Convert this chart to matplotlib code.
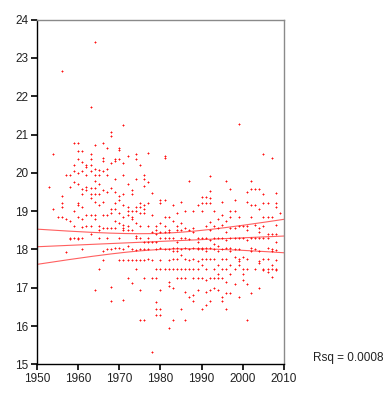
import numpy as np
import matplotlib
matplotlib.use("Agg")
import matplotlib.pyplot as plt

# Observations: year -> list of values
obs = {
    1953: [19.63],
    1954: [20.48, 19.05],
    1955: [18.85],
    1956: [22.67, 19.4, 19.2, 19.1, 18.85],
    1957: [19.95, 18.8, 17.92],
    1958: [19.95, 19.63, 18.75, 18.3, 18.28],
    1959: [20.78, 20.2, 20.05, 19.75, 19.0, 18.6, 18.3],
    1960: [20.78, 20.58, 20.35, 20.0, 19.72, 19.2, 19.15, 18.85, 18.3, 18.28],
    1961: [20.58, 20.28, 20.05, 19.58, 19.45, 19.1, 18.8, 18.58, 18.3, 18.02],
    1962: [20.2, 20.15, 19.95, 19.62, 19.55, 18.9, 18.6],
    1963: [21.72, 20.5, 20.35, 20.2, 20.05, 19.6, 19.45, 19.35, 18.9, 18.6, 18.4],
    1964: [23.42, 20.72, 20.1, 19.95, 19.8, 19.6, 19.45, 19.25, 18.9, 18.8, 16.95],
    1965: [20.08, 19.95, 19.7, 19.45, 19.15, 18.6, 18.5, 18.3, 17.5],
    1966: [20.78, 20.4, 20.3, 20.05, 19.55, 19.25, 18.9, 18.55, 17.95, 17.72],
    1967: [20.65, 20.1, 19.95, 19.5, 18.9, 18.55, 18.3, 18.0],
    1968: [21.08, 20.95, 20.25, 19.6, 19.05, 18.95, 18.55, 18.0, 17.02, 16.65],
    1969: [20.35, 20.3, 19.85, 19.5, 19.2, 19.05, 18.75, 18.55, 18.05],
    1970: [20.65, 20.6, 20.35, 19.4, 19.3, 18.95, 18.7, 18.3, 18.05, 17.72],
    1971: [21.25, 20.25, 19.95, 19.45, 19.15, 18.85, 18.65, 18.55, 18.5, 18.0, 17.72, 16.68],
    1972: [20.45, 19.72, 19.1, 19.0, 18.9, 18.6, 18.5, 18.1, 17.72, 17.25],
    1973: [19.55, 19.45, 19.0, 18.85, 18.8, 18.5, 18.0, 17.72, 17.12],
    1974: [20.5, 20.35, 19.85, 19.1, 19.0, 18.7, 18.35, 18.3, 17.98, 17.72, 17.48],
    1975: [20.2, 19.2, 19.1, 18.95, 18.6, 18.3, 18.0, 17.72, 16.95, 16.15],
    1976: [19.95, 19.85, 19.65, 19.15, 19.05, 18.95, 18.2, 18.0, 17.72, 17.25, 16.15],
    1977: [20.52, 19.75, 19.2, 18.6, 18.3, 18.2, 18.0, 17.75],
    1978: [19.48, 18.9, 18.45, 18.2, 17.72, 17.25, 15.32],
    1979: [18.6, 18.5, 18.4, 18.2, 18.0, 17.5, 17.25, 16.62, 16.45, 16.3],
    1980: [19.3, 19.2, 18.7, 18.45, 18.3, 18.05, 17.72, 17.48, 16.95, 16.45, 16.28],
    1981: [20.45, 20.38, 19.3, 18.85, 18.6, 18.45, 18.3, 18.0, 17.5],
    1982: [18.85, 18.5, 18.45, 18.3, 18.0, 17.72, 17.5, 17.15, 17.05, 15.95],
    1983: [19.15, 18.75, 18.3, 18.05, 17.95, 17.75, 17.5, 17.0, 16.15],
    1984: [18.95, 18.6, 18.5, 18.2, 18.05, 17.95, 17.75, 17.5, 17.25],
    1985: [19.25, 18.7, 18.5, 18.3, 18.0, 17.85, 17.5, 17.25, 16.45],
    1986: [19.0, 18.55, 18.3, 18.05, 17.75, 17.5, 17.25, 16.9, 16.15],
    1987: [19.78, 18.5, 18.28, 18.0, 17.72, 17.5, 16.75],
    1988: [19.0, 18.55, 18.45, 18.05, 17.75, 17.48, 17.25, 16.8, 16.65],
    1989: [19.15, 18.3, 18.2, 18.05, 18.0, 17.7, 17.48, 17.25, 16.95],
    1990: [19.38, 19.2, 19.0, 18.3, 18.05, 18.02, 17.75, 17.6, 17.25, 16.45],
    1991: [19.38, 19.2, 18.6, 18.3, 18.05, 17.95, 17.75, 17.5, 17.2, 16.9, 16.55],
    1992: [19.92, 19.52, 19.35, 19.2, 18.72, 18.5, 18.25, 18.05, 17.75, 17.25, 16.95, 16.65],
    1993: [19.0, 18.6, 18.3, 18.15, 18.0, 17.75, 17.5, 17.25, 17.0],
    1994: [18.8, 18.55, 18.3, 18.1, 17.95, 17.6, 17.35, 17.25, 16.95],
    1995: [19.25, 18.9, 18.65, 18.3, 18.0, 17.75, 17.5, 17.25, 16.75, 16.65],
    1996: [19.8, 18.75, 18.45, 18.25, 18.05, 17.75, 17.5, 17.15, 16.85, 16.45],
    1997: [19.58, 19.0, 18.85, 18.55, 18.3, 18.05, 17.95, 17.6, 17.35, 16.85],
    1998: [19.3, 19.0, 18.55, 18.3, 18.0, 17.8, 17.5, 17.1],
    1999: [21.28, 18.85, 18.6, 18.3, 18.0, 17.75, 17.7, 17.6, 16.75],
    2000: [18.6, 18.3, 17.8, 17.5, 17.35, 17.2],
    2001: [19.5, 19.25, 18.6, 18.5, 18.25, 17.75, 17.5, 17.1, 16.15],
    2002: [19.78, 19.58, 19.15, 18.85, 18.3, 18.05, 17.95, 16.85],
    2003: [19.58, 19.15, 18.65, 18.3, 18.0, 17.5],
    2004: [19.58, 19.05, 18.55, 18.45, 18.3, 17.95, 17.7, 17.65, 16.98],
    2005: [20.5, 19.45, 19.2, 18.85, 18.6, 18.3, 17.75, 17.5, 17.45],
    2006: [19.2, 18.85, 18.4, 18.3, 18.05, 17.75, 17.5, 17.42],
    2007: [20.38, 18.85, 18.4, 18.0, 17.95, 17.6, 17.5, 17.27],
    2008: [19.48, 19.2, 19.1, 18.65, 18.4, 18.2, 17.98, 17.72, 17.5, 17.45],
    2009: [18.95],
}

# Fitted line with confidence band (as shown)
fit_start_year = 1950
fit_end_year = 2010
fit_start_value = 18.07
fit_end_value = 18.35
band_center_year = 1981
band_center_halfwidth = 0.21
band_spread = 1.744e-4

x_ticks = [1950, 1960, 1970, 1980, 1990, 2000, 2010]
y_ticks = [15, 16, 17, 18, 19, 20, 21, 22, 23, 24]
rsq_label = "Rsq = 0.0008"

plt.rcParams['font.family'] = ['Liberation Sans', 'DejaVu Sans']

fig = plt.figure(figsize=(3.92, 4.0), dpi=100)
ax = fig.add_axes([37 / 392, 1 - 364.3 / 400, (284 - 37) / 392, (364.3 - 19.7) / 400])

xs = []
ys = []
for yr, vals in obs.items():
    for v in vals:
        xs.append(yr)
        ys.append(v)

ax.plot(xs, ys, linestyle='none', marker='+', markersize=2.1, markeredgewidth=0.7,
        color='#ff1010', zorder=3)

lx = np.linspace(fit_start_year, fit_end_year, 200)
slope = (fit_end_value - fit_start_value) / (fit_end_year - fit_start_year)
mean_line = fit_start_value + slope * (lx - fit_start_year)
hw = np.sqrt(band_center_halfwidth ** 2 + band_spread * (lx - band_center_year) ** 2)
line_color = '#ff6060'
ax.plot(lx, mean_line, color=line_color, lw=0.8, zorder=2)
ax.plot(lx, mean_line + hw, color=line_color, lw=0.8, zorder=2)
ax.plot(lx, mean_line - hw, color=line_color, lw=0.8, zorder=2)

ax.set_xlim(1950, 2010)
ax.set_ylim(15, 24)
ax.set_xticks(x_ticks)
ax.set_yticks(y_ticks)
ax.tick_params(axis='both', direction='out', length=4, width=1.2, color='black',
               labelsize=8.5, labelcolor='#222222', pad=2)
for s in ['left', 'bottom']:
    ax.spines[s].set_color('black')
    ax.spines[s].set_linewidth(1.0)
for s in ['top', 'right']:
    ax.spines[s].set_color('#8a8a8a')
    ax.spines[s].set_linewidth(1.0)

fig.text(313 / 392, 1 - 358 / 400, rsq_label, fontsize=8.5, color='#222222',
         ha='left', va='center')

fig.savefig('out.png', dpi=100, facecolor='white')
